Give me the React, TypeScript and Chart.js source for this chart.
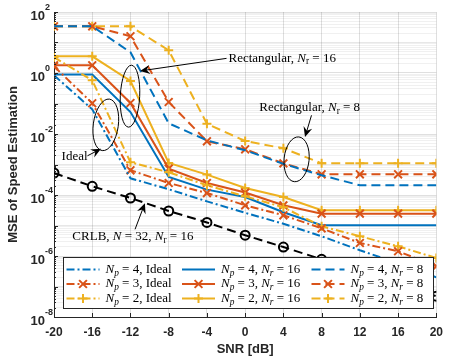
import React, { useEffect, useRef } from 'react';
import { Chart, registerables } from 'chart.js';
Chart.register(...registerables);

// ---------------- data ----------------
const snr = [-20, -16, -12, -8, -4, 0, 4, 8, 12, 16, 20];
const xTicks = [-20, -16, -12, -8, -4, 0, 4, 8, 12, 16, 20];
const yLabelExps = [2, 0, -2, -4, -6, -8];

const np4Ideal = [0.84, 0.0645, 3.53e-4, 1.54e-4, 6.2e-5, 2.61e-5, 1.14e-5, 4.43e-6, 1.54e-6, 5.77e-7, 2.0e-7];
const np3Ideal = [1.66, 0.102, 6.46e-4, 2.47e-4, 1.16e-4, 4.59e-5, 2.16e-5, 8.1e-6, 2.67e-6, 1.43e-6, 4.6e-7];
const np2Ideal = [3.27, 0.577, 1.18e-3, 5.55e-4, 2.08e-4, 9.06e-5, 3.95e-5, 9.4e-6, 4.43e-6, 2.08e-6, 8.6e-7];

const np4Nr16 = [0.887, 0.887, 0.0526, 3.89e-4, 1.5e-4, 8.6e-5, 2.71e-5, 1.02e-5, 1.02e-5, 1.02e-5, 1.02e-5];
const np3Nr16 = [1.79, 1.79, 0.104, 7.34e-4, 2.47e-4, 1.2e-4, 4.59e-5, 2.45e-5, 2.45e-5, 2.45e-5, 2.45e-5];
const np2Nr16 = [3.53, 3.53, 0.547, 1.12e-3, 4.67e-4, 1.7e-4, 8.6e-5, 3.15e-5, 3.15e-5, 3.15e-5, 3.15e-5];

const np4Nr8 = [34, 34, 4.77, 0.0224, 6.2e-3, 2.92e-3, 1.05e-3, 4.43e-4, 2.08e-4, 2.08e-4, 2.08e-4];
const np3Nr8 = [34, 34, 16, 0.112, 5.77e-3, 3.15e-3, 1.09e-3, 4.77e-4, 4.77e-4, 4.77e-4, 4.77e-4];
const np2Nr8 = [34, 34, 34, 5.55, 0.0216, 5.9e-3, 3.4e-3, 1.09e-3, 1.09e-3, 1.09e-3, 1.09e-3];

const crlb = [5.26e-4, 1.93e-4, 7.98e-5, 2.99e-5, 1.26e-5, 4.8e-6, 1.97e-6, 7.8e-7, 3.05e-7, 1.21e-7, 4.8e-8];

const npValues = ['4', '3', '2'];
const nrValues = ['16', '8'];

// ---------------- styles ----------------
const BLUE = '#0072BD';
const ORANGE = '#D95319';
const YELLOW = '#EDB120';
const AXIS = '#262626';
const DASH = [9, 5];
const DASHDOT = [8, 3, 2, 3];
const SERIF = '"Liberation Serif", "DejaVu Serif", serif';
const SANS = '"Liberation Sans", Arial, sans-serif';

type Marker = 'none' | 'crossRot' | 'cross' | 'circle';

function ds(label: string, data: number[], color: string, dash: number[], marker: Marker) {
  const r = marker === 'crossRot' ? 5.5 : marker === 'cross' ? 4.5 : marker === 'circle' ? 4.5 : 0;
  return {
    label,
    data: snr.map((x, i) => ({ x, y: data[i] })),
    borderColor: color,
    backgroundColor: color,
    borderWidth: 2,
    borderDash: dash,
    pointStyle: marker === 'none' ? 'circle' : marker,
    pointRadius: r,
    pointBorderWidth: 2,
    pointBorderColor: color,
    pointBackgroundColor: 'rgba(0,0,0,0)',
    tension: 0,
    fill: false,
  };
}

const seriesColors = [BLUE, ORANGE, YELLOW];
const seriesMarkers: Marker[] = ['none', 'crossRot', 'cross'];

type Part = { t: string; it?: boolean; sub?: boolean };

function drawRich(ctx: CanvasRenderingContext2D, x: number, y: number, parts: Part[], size: number) {
  let cx = x;
  ctx.textAlign = 'left';
  ctx.textBaseline = 'middle';
  for (const p of parts) {
    const fs = p.sub ? size * 0.72 : size;
    ctx.font = `${p.it ? 'italic ' : ''}${fs}px ${SERIF}`;
    ctx.fillText(p.t, cx, y + (p.sub ? size * 0.28 : 0));
    cx += ctx.measureText(p.t).width;
  }
  return cx;
}

function drawMarker(ctx: CanvasRenderingContext2D, m: Marker, x: number, y: number, color: string) {
  ctx.save();
  ctx.setLineDash([]);
  ctx.strokeStyle = color;
  ctx.lineWidth = 2;
  ctx.beginPath();
  if (m === 'crossRot') {
    const d = 3.9;
    ctx.moveTo(x - d, y - d); ctx.lineTo(x + d, y + d);
    ctx.moveTo(x + d, y - d); ctx.lineTo(x - d, y + d);
  } else if (m === 'cross') {
    const d = 4.5;
    ctx.moveTo(x - d, y); ctx.lineTo(x + d, y);
    ctx.moveTo(x, y - d); ctx.lineTo(x, y + d);
  }
  ctx.stroke();
  ctx.restore();
}

function arrow(ctx: CanvasRenderingContext2D, a: number[], b: number[]) {
  const dx = b[0] - a[0], dy = b[1] - a[1];
  const len = Math.hypot(dx, dy);
  const ux = dx / len, uy = dy / len;
  const nx = -uy, ny = ux;
  const L = 10, W = 4.5;
  ctx.beginPath();
  ctx.moveTo(a[0], a[1]);
  ctx.lineTo(b[0] - ux * L * 0.6, b[1] - uy * L * 0.6);
  ctx.stroke();
  ctx.beginPath();
  ctx.moveTo(b[0], b[1]);
  ctx.lineTo(b[0] - ux * L + nx * W, b[1] - uy * L + ny * W);
  ctx.lineTo(b[0] - ux * L * 0.65, b[1] - uy * L * 0.65);
  ctx.lineTo(b[0] - ux * L - nx * W, b[1] - uy * L - ny * W);
  ctx.closePath();
  ctx.fill();
}

const decorPlugin = {
  id: 'decor',
  afterDraw(chart: any) {
    const ctx: CanvasRenderingContext2D = chart.ctx;
    const xs = chart.scales.x;
    const ys = chart.scales.y;
    const area = chart.chartArea;
    const P = (x: number, lg: number) => [xs.getPixelForValue(x), ys.getPixelForValue(Math.pow(10, lg))];
    ctx.save();

    // inner tick marks
    ctx.strokeStyle = AXIS;
    ctx.lineWidth = 1;
    ctx.setLineDash([]);
    ctx.beginPath();
    for (const v of xTicks) {
      const px = Math.round(xs.getPixelForValue(v)) + 0.5;
      ctx.moveTo(px, area.bottom); ctx.lineTo(px, area.bottom - 4);
    }
    for (let e = -8; e <= 2; e++) {
      for (let m = 1; m <= 9; m++) {
        const v = m * Math.pow(10, e);
        if (v > 100.001) continue;
        const py = Math.round(ys.getPixelForValue(v)) + 0.5;
        const l = m === 1 ? 4 : 2;
        ctx.moveTo(area.left, py); ctx.lineTo(area.left + l, py);
      }
    }
    ctx.stroke();

    // y tick labels 10^k
    ctx.fillStyle = AXIS;
    for (const e of yLabelExps) {
      const py = ys.getPixelForValue(Math.pow(10, e));
      ctx.font = `bold 13px ${SANS}`;
      ctx.textAlign = 'right';
      ctx.textBaseline = 'middle';
      ctx.fillText('10', area.left - 9, py + 4);
      ctx.font = `bold 9px ${SANS}`;
      ctx.textAlign = 'left';
      ctx.fillText(String(e), area.left - 9, py - 4);
    }

    // annotations
    ctx.strokeStyle = '#000';
    ctx.fillStyle = '#000';
    ctx.lineWidth = 1;
    const ell = (c: number[], rx: number, ry: number, rot: number) => {
      ctx.beginPath();
      ctx.ellipse(c[0], c[1], rx, ry, rot, 0, Math.PI * 2);
      ctx.stroke();
    };
    ell(P(-12.05, -0.76), 9.7, 31, 0.05);
    ell(P(-14.58, -1.70), 12.5, 26, 0.14);
    ell(P(5.38, -2.83), 12.5, 22.5, 0.1);

    arrow(ctx, P(-1.95, 0.48), P(-11.0, 0.066));
    arrow(ctx, P(6.94, -1.387), P(6.26, -2.098));
    arrow(ctx, P(-16.5, -2.715), P(-15.08, -2.485));
    arrow(ctx, P(-11.52, -5.125), P(-10.49, -4.272));

    ctx.fillStyle = '#000';
    let p = P(-1.74, 0.482);
    drawRich(ctx, p[0], p[1], [{ t: 'Rectangular, ' }, { t: 'N', it: true }, { t: 'r', sub: true }, { t: ' = 16' }], 13);
    p = P(1.47, -1.148);
    drawRich(ctx, p[0], p[1], [{ t: 'Rectangular, ' }, { t: 'N', it: true }, { t: 'r', sub: true }, { t: ' = 8' }], 13);
    p = P(-19.21, -2.754);
    drawRich(ctx, p[0], p[1], [{ t: 'Ideal' }], 13);
    p = P(-18.08, -5.377);
    drawRich(ctx, p[0], p[1], [{ t: 'CRLB, ' }, { t: 'N', it: true }, { t: ' = 32, ' }, { t: 'N', it: true }, { t: 'r', sub: true }, { t: ' = 16' }], 13);

    // legend
    const bx = 63.5, by = 257.5, bw = 370, bh = 51;
    ctx.fillStyle = '#fff';
    ctx.fillRect(bx, by, bw, bh);
    ctx.strokeStyle = AXIS;
    ctx.lineWidth = 1;
    ctx.strokeRect(bx, by, bw, bh);
    const colX = [66.5, 182, 311.5];
    const rowY = [269.5, 284, 298.5];
    const dashes = [DASHDOT, [], DASH];
    for (let r = 0; r < 3; r++) {
      for (let c = 0; c < 3; c++) {
        const color = seriesColors[r];
        const y = rowY[r];
        const x0 = colX[c];
        const x1 = x0 + 33;
        ctx.save();
        ctx.strokeStyle = color;
        ctx.lineWidth = 2;
        ctx.setLineDash(dashes[c]);
        ctx.beginPath();
        ctx.moveTo(x0, y); ctx.lineTo(x1, y);
        ctx.stroke();
        ctx.restore();
        drawMarker(ctx, seriesMarkers[r], (x0 + x1) / 2, y, color);
        ctx.fillStyle = '#000';
        const parts: Part[] = [{ t: 'N', it: true }, { t: 'p', it: true, sub: true }, { t: ` = ${npValues[r]}, ` }];
        if (c === 0) parts.push({ t: 'Ideal' });
        else parts.push({ t: 'N', it: true }, { t: 'r', it: true, sub: true }, { t: ` = ${nrValues[c - 1]}` });
        drawRich(ctx, x1 + 6, y, parts, 13);
      }
    }
    ctx.restore();
  },
};

export default function App() {
  const ref = useRef<HTMLCanvasElement>(null);
  useEffect(() => {
    const datasets: any[] = [
      ds('Np=4, Ideal', np4Ideal, BLUE, DASHDOT, 'none'),
      ds('Np=3, Ideal', np3Ideal, ORANGE, DASHDOT, 'crossRot'),
      ds('Np=2, Ideal', np2Ideal, YELLOW, DASHDOT, 'cross'),
      ds('Np=4, Nr=16', np4Nr16, BLUE, [], 'none'),
      ds('Np=3, Nr=16', np3Nr16, ORANGE, [], 'crossRot'),
      ds('Np=2, Nr=16', np2Nr16, YELLOW, [], 'cross'),
      ds('Np=4, Nr=8', np4Nr8, BLUE, DASH, 'none'),
      ds('Np=3, Nr=8', np3Nr8, ORANGE, DASH, 'crossRot'),
      ds('Np=2, Nr=8', np2Nr8, YELLOW, DASH, 'cross'),
      ds('CRLB', crlb, '#000', DASH, 'circle'),
    ];
    const chart = new Chart(ref.current as HTMLCanvasElement, {
      type: 'line',
      data: { datasets },
      options: {
        animation: false,
        responsive: false,
        maintainAspectRatio: false,
        layout: { padding: { top: 12, right: 7, left: 0, bottom: 0 } },
        plugins: { legend: { display: false }, tooltip: { enabled: false } },
        scales: {
          x: {
            type: 'linear',
            min: -20,
            max: 20,
            afterBuildTicks: (s: any) => { s.ticks = xTicks.map((v) => ({ value: v })); },
            afterFit: (s: any) => { s.height = 42; },
            ticks: { color: AXIS, font: { family: SANS, weight: 'bold', size: 12 }, padding: 8, maxRotation: 0 },
            grid: { color: 'rgba(38,38,38,0.15)', drawTicks: false },
            border: { color: AXIS, width: 1 },
            title: { display: true, text: 'SNR [dB]', color: AXIS, font: { family: SANS, weight: 'bold', size: 13 }, padding: { top: 0, bottom: 2 } },
          },
          y: {
            type: 'logarithmic',
            min: 1e-8,
            max: 100,
            afterBuildTicks: (s: any) => {
              const t: any[] = [];
              for (let e = -8; e <= 2; e++) {
                for (let m = 1; m <= 9; m++) {
                  const v = m * Math.pow(10, e);
                  if (v <= 100.001) t.push({ value: v });
                }
              }
              s.ticks = t;
            },
            afterFit: (s: any) => { s.width = 54; },
            ticks: { display: false },
            grid: {
              drawTicks: false,
              color: (c: any) => {
                const v = c.tick ? c.tick.value : 1;
                const lg = Math.log10(v);
                const dec = Math.abs(lg - Math.round(lg)) < 1e-6;
                if (dec && Math.round(lg) % 2 === 0) return 'rgba(38,38,38,0.15)';
                if (dec) return 'rgba(38,38,38,0.11)';
                return 'rgba(38,38,38,0.07)';
              },
            },
            border: { color: AXIS, width: 1 },
            title: { display: true, text: 'MSE of Speed Estimation', color: AXIS, font: { family: SANS, weight: 'bold', size: 13 }, padding: { top: 6, bottom: 0 } },
          },
        },
      },
      plugins: [decorPlugin],
    } as any);
    return () => chart.destroy();
  }, []);
  return (
    <div style={{ position: 'fixed', left: 0, top: 0, width: 451, height: 359, background: '#fff' }}>
      <canvas ref={ref} width={451} height={359} style={{ display: 'block' }} />
    </div>
  );
}
